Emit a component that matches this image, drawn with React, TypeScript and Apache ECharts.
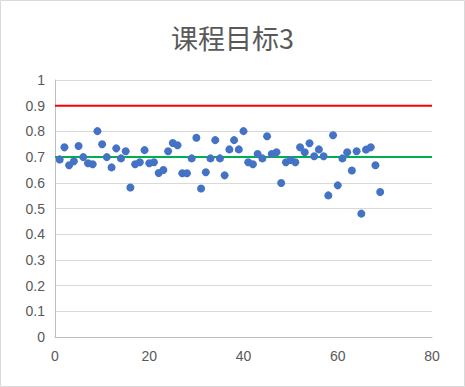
import React, { useEffect, useRef } from "react";
import * as echarts from "echarts";

const TITLE = "课程目标3";
const xValues: number[] = Array.from({ length: 69 }, (_, i) => i + 1);
const yValues: number[] = [
  0.691, 0.738, 0.668, 0.684, 0.743, 0.700, 0.676, 0.672, 0.801, 0.750,
  0.700, 0.660, 0.734, 0.695, 0.723, 0.582, 0.672, 0.680, 0.727, 0.676,
  0.680, 0.638, 0.650, 0.723, 0.755, 0.746, 0.637, 0.637, 0.695, 0.775,
  0.578, 0.641, 0.695, 0.766, 0.695, 0.629, 0.730, 0.766, 0.730, 0.801,
  0.680, 0.672, 0.712, 0.695, 0.781, 0.712, 0.719, 0.599, 0.680, 0.689,
  0.680, 0.738, 0.719, 0.754, 0.703, 0.730, 0.703, 0.551, 0.785, 0.590,
  0.695, 0.719, 0.648, 0.723, 0.480, 0.729, 0.738, 0.668, 0.564,
];
const redLevel = 0.9;
const greenLevel = 0.7;
const xRange = [0, 80];

export default function App() {
  const ref = useRef<HTMLDivElement>(null);
  useEffect(() => {
    if (!ref.current) return;
    const chart = echarts.init(ref.current, undefined, { renderer: "svg" });
    const pts = xValues.map((x, i) => [x, yValues[i]]);
    chart.setOption({
      animation: false,
      backgroundColor: "#ffffff",
      title: {
        text: TITLE,
        left: "center",
        top: 19,
        textStyle: {
          fontFamily: "Noto Sans CJK SC",
          fontSize: 27,
          fontWeight: "normal",
          color: "#595959",
        },
      },
      graphic: [
        {
          type: "rect",
          shape: { x: 0.5, y: 0.5, width: 464, height: 386 },
          style: { fill: "none", stroke: "#d9d9d9", lineWidth: 1 },
          silent: true,
        },
      ],
      grid: { left: 55, right: 33, top: 80, bottom: 50, containLabel: false },
      xAxis: {
        type: "value",
        min: 0,
        max: 80,
        interval: 20,
        axisLine: { show: true, lineStyle: { color: "#bfbfbf", width: 1 } },
        axisTick: { show: false },
        splitLine: { show: false },
        axisLabel: {
          color: "#595959",
          fontSize: 14,
          fontFamily: "Liberation Sans",
          margin: 12,
        },
      },
      yAxis: {
        type: "value",
        min: 0,
        max: 1,
        interval: 0.1,
        axisLine: { show: true, lineStyle: { color: "#bfbfbf", width: 1 } },
        axisTick: { show: false },
        splitLine: { show: true, lineStyle: { color: "#d9d9d9", width: 1 } },
        axisLabel: {
          color: "#595959",
          fontSize: 14,
          fontFamily: "Liberation Sans",
          margin: 10,
        },
      },
      series: [
        {
          type: "line",
          data: xRange.map((x) => [x, redLevel]),
          symbol: "none",
          lineStyle: { color: "#ff0000", width: 2 },
          z: 3,
        },
        {
          type: "line",
          data: xRange.map((x) => [x, greenLevel]),
          symbol: "none",
          lineStyle: { color: "#00b050", width: 2 },
          z: 3,
        },
        {
          type: "scatter",
          data: pts,
          symbol: "circle",
          symbolSize: 8,
          itemStyle: { color: "#4472c4", opacity: 1 },
          z: 4,
        },
      ],
    });
    return () => chart.dispose();
  }, []);
  return (
    <div
      ref={ref}
      style={{ position: "absolute", left: 0, top: 0, width: 465, height: 387 }}
    />
  );
}
